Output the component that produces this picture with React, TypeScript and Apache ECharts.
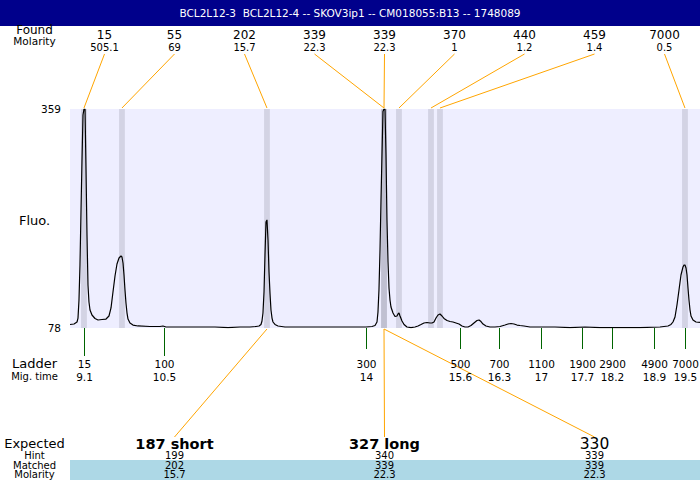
import React, { useEffect, useRef } from "react";
import * as echarts from "echarts";

const title = "BCL2L12-3  BCL2L12-4 -- SKOV3ip1 -- CM018055:B13 -- 1748089";

// electropherogram trace: migration time (min) vs fluorescence
const migTime = [
  8.876, 8.945, 8.997, 9.014, 9.031, 9.048, 9.066, 9.083, 9.1, 9.117,
  9.135, 9.152, 9.169, 9.186, 9.203, 9.221, 9.255, 9.307, 9.359, 9.428,
  9.497, 9.548, 9.583, 9.617, 9.652, 9.686, 9.721, 9.755, 9.772, 9.79,
  9.807, 9.824, 9.841, 9.859, 9.876, 9.91, 9.962, 10.048, 10.255, 10.428,
  10.479, 10.531, 10.772, 11.117, 11.376, 11.6, 11.807, 11.979, 12.083, 12.135,
  12.169, 12.186, 12.203, 12.221, 12.238, 12.255, 12.272, 12.29, 12.307, 12.324,
  12.341, 12.359, 12.376, 12.41, 12.462, 12.583, 12.841, 13.186, 13.531, 13.703,
  13.979, 14.083, 14.135, 14.169, 14.186, 14.203, 14.221, 14.238, 14.255, 14.272,
  14.29, 14.307, 14.324, 14.341, 14.359, 14.376, 14.393, 14.41, 14.445, 14.479,
  14.514, 14.531, 14.548, 14.566, 14.6, 14.635, 14.686, 14.755, 14.824, 14.876,
  14.928, 14.979, 15.031, 15.083, 15.118, 15.152, 15.186, 15.221, 15.255, 15.29,
  15.324, 15.376, 15.428, 15.479, 15.531, 15.583, 15.634, 15.686, 15.738, 15.79,
  15.841, 15.893, 15.928, 15.962, 15.997, 16.048, 16.117, 16.203, 16.29, 16.376,
  16.428, 16.479, 16.531, 16.583, 16.634, 16.703, 16.807, 16.979, 17.238, 17.497,
  17.755, 18.014, 18.272, 18.703, 19.048, 19.186, 19.238, 19.272, 19.307, 19.341,
  19.376, 19.41, 19.445, 19.462, 19.479, 19.497, 19.514, 19.531, 19.548, 19.566,
  19.583, 19.617, 19.669, 19.738,
];
const fluo = [
  82.5, 83.1, 85.7, 90.8, 113.9, 158.8, 229.4, 293.6, 351.3, 359,
  359, 280.7, 197.3, 133.2, 111.4, 101.1, 94.7, 90.2, 88.3, 88.9,
  89.5, 93.4, 103.7, 124.2, 144.7, 160.1, 167.8, 170.4, 169.1, 161.4,
  146.0, 126.8, 110.1, 97.2, 89.5, 84.4, 81.8, 80.6, 79.9, 79.9,
  80.6, 79.3, 79.3, 79.3, 79.3, 78.6, 79.3, 79.3, 79.9, 80.6,
  82.5, 87.0, 97.2, 124.2, 171.7, 214.0, 216.7, 190.9, 149.9, 122.9,
  101.1, 90.8, 85.7, 82.5, 80.6, 79.3, 79.3, 79.3, 79.3, 79.3,
  79.3, 79.9, 81.2, 85.7, 98.5, 126.8, 178.1, 242.2, 300.0, 355.8,
  359, 359, 300.0, 216.6, 162.7, 129.3, 113.9, 104.9, 97.2, 92.8,
  93.4, 96.0, 97.2, 93.4, 87.0, 82.5, 79.3, 78.6, 79.3, 80.6,
  82.5, 84.4, 85.1, 84.4, 84.4, 85.7, 90.8, 94.7, 96.0, 93.4,
  90.2, 87.6, 86.3, 85.7, 84.4, 83.1, 80.6, 79.3, 79.3, 81.2,
  84.4, 87.6, 88.3, 86.3, 83.1, 80.6, 79.3, 79.3, 79.9, 81.8,
  83.1, 83.8, 83.1, 81.8, 81.2, 80.6, 79.3, 79.3, 79.3, 78.6,
  79.3, 78.6, 78.6, 78.6, 79.3, 80.6, 82.5, 85.7, 92.1, 107.5,
  126.8, 146.0, 156.3, 158.8, 158.8, 155.0, 146.0, 129.3, 113.9, 101.1,
  93.4, 88.3, 85.7, 85.1,
];

// found peaks
const peakSizes = ["15", "55", "202", "339", "339", "370", "440", "459", "7000"];
const peakMolarity = ["505.1", "69", "15.7", "22.3", "22.3", "1", "1.2", "1.4", "0.5"];
const peakTimes = [9.117, 9.772, 12.272, 14.29, 14.29, 14.548, 15.1, 15.255, 19.479];

// ladder
const ladderSizes = ["15", "100", "300", "500", "700", "1100", "1900", "2900", "4900", "7000"];
const ladderTimes = [9.117, 10.497, 13.979, 15.6, 16.272, 16.997, 17.703, 18.221, 18.945, 19.479];

// expected / matched
const expectedLabels = ["187 short", "327 long", "330"];
const hintSizes = ["199", "340", "339"];
const matchedSizes = ["202", "339", "339"];
const matchedMolarity = ["15.7", "22.3", "22.3"];
const matchedTimes = [12.272, 14.29, 14.29];

const yMin = 78;
const yMax = 359;
const xMin = 8.876;
const xMax = 19.738;

const FONT = "DejaVu Sans";

function txt(x: number, y: number, text: string, size: number, extra: any = {}) {
  return {
    type: "text",
    x,
    y,
    z: 10,
    silent: true,
    style: {
      text,
      fill: extra.fill || "#000",
      fontSize: size,
      fontFamily: FONT,
      fontWeight: extra.bold ? "bold" : "normal",
      textAlign: extra.align || "center",
      align: extra.align || "center",
      textVerticalAlign: "middle",
      verticalAlign: "middle",
    },
  };
}

function ln(x1: number, y1: number, x2: number, y2: number, color: string, z = 5) {
  return {
    type: "line",
    z,
    silent: true,
    shape: { x1, y1, x2, y2 },
    style: { stroke: color, lineWidth: 1 },
  };
}

export default function App() {
  const ref = useRef<HTMLDivElement>(null);
  useEffect(() => {
    const chart = echarts.init(ref.current!, null, { renderer: "svg" });
    const gridLeft = 70;
    const gridTop = 109;
    const gridW = 630;
    const gridH = 219;
    const bandHalf = 0.05;
    chart.setOption({
      animation: false,
      backgroundColor: "#ffffff",
      grid: {
        left: gridLeft,
        top: gridTop,
        width: gridW,
        height: gridH,
        show: true,
        backgroundColor: "#EEEEFF",
        borderWidth: 0,
      },
      xAxis: { type: "value", min: xMin, max: xMax, show: false },
      yAxis: {
        type: "value",
        min: yMin,
        max: yMax,
        interval: yMax - yMin,
        axisLine: { show: false },
        axisTick: { show: false },
        splitLine: { show: false },
        axisLabel: { margin: 9, fontSize: 10.5, fontFamily: FONT, color: "#000" },
      },
      series: [
        {
          type: "line",
          data: migTime.map((t, i) => [t, fluo[i]]),
          showSymbol: false,
          symbol: "none",
          silent: true,
          lineStyle: { color: "#000", width: 1.2 },
          z: 3,
          markArea: {
            silent: true,
            itemStyle: { color: "rgba(150,150,165,0.3)" },
            data: peakTimes.map((t) => [{ xAxis: t - bandHalf }, { xAxis: t + bandHalf }]),
          },
        },
      ],
    });

    const px = (t: number, v: number) => chart.convertToPixel({ gridIndex: 0 }, [t, v]) as number[];
    const topY = px(xMin, yMax)[1];
    const botY = px(xMin, yMin)[1];
    const els: any[] = [];
    const orange = "#FFA500";
    const colX = (i: number) => 34.5 + 70 * i;

    // title bar
    els.push({ type: "rect", z: 8, silent: true, shape: { x: 0, y: 0, width: 700, height: 26 }, style: { fill: "#00008B" } });
    els.push(txt(350, 13, title, 10.5, { fill: "#fff" }));

    // header
    els.push(txt(colX(0), 29.5, "Found", 12));
    els.push(txt(colX(0), 40.5, "Molarity", 10.5));
    peakSizes.forEach((s, i) => {
      const x = colX(i + 1);
      els.push(txt(x, 34.5, s, 12));
      els.push(txt(x, 47, peakMolarity[i], 10));
      const p = px(peakTimes[i], yMax);
      els.push(ln(x, 54, p[0], topY - 1, orange));
    });

    els.push(txt(colX(0), 220.5, "Fluo.", 13));

    // ladder
    els.push(txt(colX(0), 363.5, "Ladder", 13));
    els.push(txt(colX(0), 376.5, "Mig. time", 10));
    ladderSizes.forEach((s, i) => {
      const x = Math.round(px(ladderTimes[i], yMin)[0]) + 0.5;
      const len = i < 2 ? 28 : 21;
      els.push(ln(x, botY, x, botY + len, "#006400"));
      els.push(txt(x, 363.5, s, 10.5));
      els.push(txt(x, 376.5, String(Number(ladderTimes[i].toFixed(1))), 10.5));
    });

    // expected
    els.push(txt(colX(0), 443.5, "Expected", 13));
    els.push(txt(colX(0), 455, "Hint", 10));
    els.push({ type: "rect", z: 1, silent: true, shape: { x: 70, y: 460, width: 630, height: 20 }, style: { fill: "#ADD8E6" } });
    els.push(txt(colX(0), 465, "Matched", 10));
    els.push(txt(colX(0), 474.5, "Molarity", 10));
    expectedLabels.forEach((lab, k) => {
      const x = colX(2 + 3 * k);
      const p = px(matchedTimes[k], yMin);
      els.push(ln(p[0], botY + 1, x, 437, orange));
      els.push(txt(x, 444, lab, k < 2 ? 14.5 : 15.5, { bold: k < 2 }));
      els.push(txt(x, 455, hintSizes[k], 10));
      els.push(txt(x, 465, matchedSizes[k], 10));
      els.push(txt(x, 474.5, matchedMolarity[k], 10));
    });

    chart.setOption({ graphic: { elements: els } });
    return () => chart.dispose();
  }, []);
  return <div ref={ref} style={{ position: "fixed", left: 0, top: 0, width: 700, height: 480 }} />;
}
